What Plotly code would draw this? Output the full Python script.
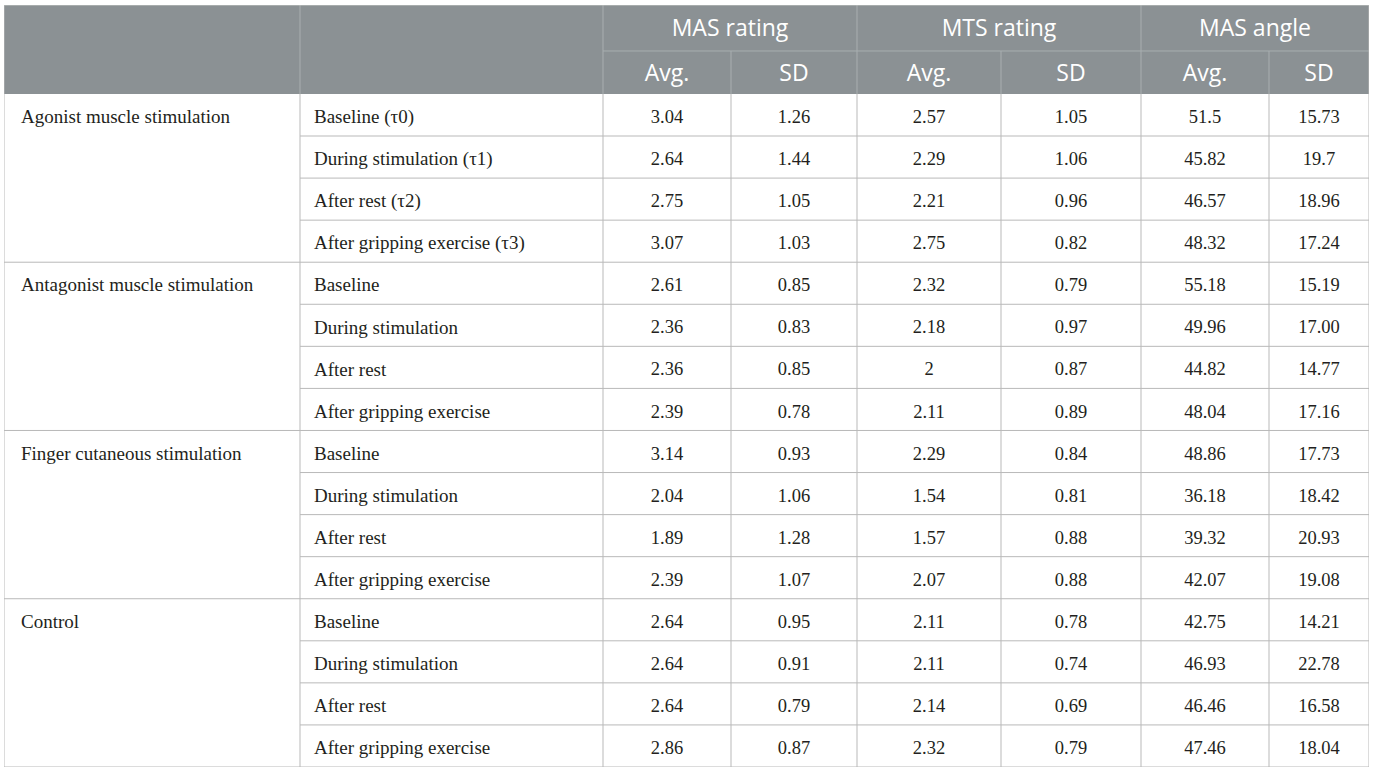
import plotly.graph_objects as go

# table content
groups = ["Agonist muscle stimulation", "Antagonist muscle stimulation",
          "Finger cutaneous stimulation", "Control"]
conditions = ["Baseline (τ0)", "During stimulation (τ1)", "After rest (τ2)", "After gripping exercise (τ3)",
              "Baseline", "During stimulation", "After rest", "After gripping exercise",
              "Baseline", "During stimulation", "After rest", "After gripping exercise",
              "Baseline", "During stimulation", "After rest", "After gripping exercise"]
measures = ["MAS rating", "MTS rating", "MAS angle"]
stats = ["Avg.", "SD"]

mas_avg = ["3.04", "2.64", "2.75", "3.07", "2.61", "2.36", "2.36", "2.39",
           "3.14", "2.04", "1.89", "2.39", "2.64", "2.64", "2.64", "2.86"]
mas_sd = ["1.26", "1.44", "1.05", "1.03", "0.85", "0.83", "0.85", "0.78",
          "0.93", "1.06", "1.28", "1.07", "0.95", "0.91", "0.79", "0.87"]
mts_avg = ["2.57", "2.29", "2.21", "2.75", "2.32", "2.18", "2", "2.11",
           "2.29", "1.54", "1.57", "2.07", "2.11", "2.11", "2.14", "2.32"]
mts_sd = ["1.05", "1.06", "0.96", "0.82", "0.79", "0.97", "0.87", "0.89",
          "0.84", "0.81", "0.88", "0.88", "0.78", "0.74", "0.69", "0.79"]
angle_avg = ["51.5", "45.82", "46.57", "48.32", "55.18", "49.96", "44.82", "48.04",
             "48.86", "36.18", "39.32", "42.07", "42.75", "46.93", "46.46", "47.46"]
angle_sd = ["15.73", "19.7", "18.96", "17.24", "15.19", "17.00", "14.77", "17.16",
            "17.73", "18.42", "20.93", "19.08", "14.21", "22.78", "16.58", "18.04"]

# geometry (axis units == pixels)
col_w = [296, 303, 128, 126, 144, 140, 128, 100]
head_h = [46, 43]
body_h = 42.09
rows_per_group = 4
body_dy = 3.5   # nudge so glyphs sit optically centred
head_dy = 2.5

HEAD_FILL = "#8b9194"
HEAD_LINE = "#a9aeb0"
GRID = "#b9b9b9"
TEXT = "#231f20"
SERIF = "Liberation Serif"
SANS = "Open Sans"

col_x = [0]
for w in col_w:
    col_x.append(col_x[-1] + w)
col_c = [(col_x[i] + col_x[i + 1]) / 2 for i in range(len(col_w))]

n_rows = len(conditions)
body_top = sum(head_h)
row_y = [body_top + i * body_h for i in range(n_rows + 1)]
row_c = [body_top + (i + 0.5) * body_h + body_dy for i in range(n_rows)]
total_w = col_x[-1]
total_h = row_y[-1]

fig = go.Figure()


def text_trace(xs, ys, texts, pos, family, size, color):
    fig.add_trace(go.Scatter(x=xs, y=ys, text=texts, mode="text", textposition=pos,
                             textfont=dict(family=family, size=size, color=color),
                             hoverinfo="skip", showlegend=False))


# header
h1c = head_h[0] / 2 + head_dy
h2c = head_h[0] + head_h[1] / 2 + head_dy
text_trace([(col_x[2 + 2 * i] + col_x[4 + 2 * i]) / 2 for i in range(3)], [h1c] * 3,
           measures, "middle center", SANS, 23, "white")
text_trace(col_c[2:], [h2c] * 6, stats * 3, "middle center", SANS, 23, "white")

# body
text_trace([17] * len(groups), [row_c[i * rows_per_group] for i in range(len(groups))],
           groups, "middle right", SERIF, 19, TEXT)
text_trace([col_x[1] + 14] * n_rows, row_c, conditions, "middle right", SERIF, 19, TEXT)
for k, vals in enumerate([mas_avg, mas_sd, mts_avg, mts_sd, angle_avg, angle_sd]):
    text_trace([col_c[2 + k]] * n_rows, row_c, vals, "middle center", SERIF, 18.5, TEXT)

shapes = []


def line(x0, y0, x1, y1, color):
    shapes.append(dict(type="line", x0=x0, y0=y0, x1=x1, y1=y1, xref="x", yref="y",
                       line=dict(color=color, width=1), layer="below"))


shapes.append(dict(type="rect", x0=0, y0=0, x1=total_w, y1=body_top, xref="x", yref="y",
                   fillcolor=HEAD_FILL, line=dict(width=0), layer="below"))
# header lines
for i in [1, 2, 4, 6]:
    line(col_x[i], 0, col_x[i], body_top, HEAD_LINE)
for i in [3, 5, 7]:
    line(col_x[i], head_h[0], col_x[i], body_top, HEAD_LINE)
line(col_x[2], head_h[0], total_w, head_h[0], HEAD_LINE)

# body lines
for r in range(1, n_rows):
    x_start = 0 if r % rows_per_group == 0 else col_x[1]
    line(x_start, row_y[r], total_w, row_y[r], GRID)
for i in range(1, len(col_x) - 1):
    line(col_x[i], body_top, col_x[i], total_h, GRID)

# outer frame
line(0, 0, total_w, 0, "#c3c7c3")
line(0, 0, 0, total_h, GRID)
line(total_w, 0, total_w, total_h, GRID)
line(0, total_h, total_w, total_h, GRID)

fig.update_layout(
    width=1376, height=772,
    margin=dict(l=4, r=7, t=4.5, b=5),
    plot_bgcolor="white", paper_bgcolor="white",
    shapes=shapes,
    xaxis=dict(range=[0, total_w], visible=False, fixedrange=True),
    yaxis=dict(range=[total_h, 0], visible=False, fixedrange=True),
)

fig.write_html("out.html", config={"displayModeBar": False},
               post_script="document.body.style.margin = '0';")
